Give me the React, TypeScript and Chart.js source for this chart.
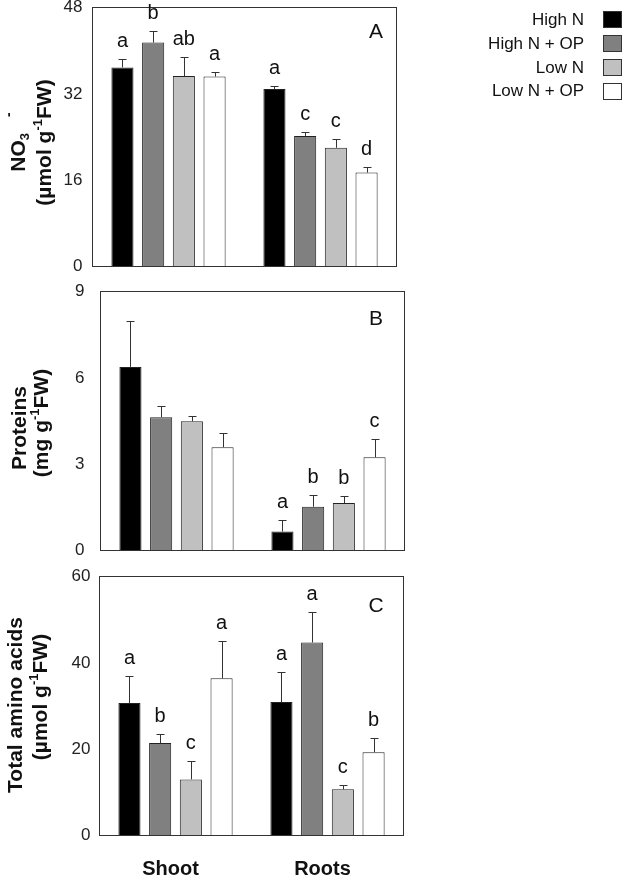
import React, { useEffect, useRef } from "react";
import { Chart, registerables } from "chart.js";
Chart.register(...registerables);

// ---------- data ----------
const categories = ["Shoot", "Roots"];
const seriesNames = ["High N", "High N + OP", "Low N", "Low N + OP"];
const seriesColors = ["#000000", "#808080", "#c0c0c0", "#ffffff"];

// Panel A: NO3- (µmol g-1 FW)
const nitrateHighN = [36.9, 32.9];
const nitrateHighNOP = [41.5, 24.2];
const nitrateLowN = [35.3, 22.0];
const nitrateLowNOP = [35.2, 17.4];
const nitrateErrHighN = [1.5, 0.6];
const nitrateErrHighNOP = [2.1, 0.8];
const nitrateErrLowN = [3.6, 1.7];
const nitrateErrLowNOP = [0.8, 1.0];
const nitrateLetHighN = ["a", "a"];
const nitrateLetHighNOP = ["b", "c"];
const nitrateLetLowN = ["ab", "c"];
const nitrateLetLowNOP = ["a", "d"];
const nitrateTicks = [0, 16, 32, 48];

// Panel B: Proteins (mg g-1 FW)
const proteinHighN = [6.38, 0.66];
const proteinHighNOP = [4.63, 1.52];
const proteinLowN = [4.49, 1.65];
const proteinLowNOP = [3.59, 3.24];
const proteinErrHighN = [1.6, 0.41];
const proteinErrHighNOP = [0.39, 0.4];
const proteinErrLowN = [0.2, 0.26];
const proteinErrLowNOP = [0.5, 0.65];
const proteinLetHighN = ["", "a"];
const proteinLetHighNOP = ["", "b"];
const proteinLetLowN = ["", "b"];
const proteinLetLowNOP = ["", "c"];
const proteinTicks = [0, 3, 6, 9];

// Panel C: Total amino acids (µmol g-1 FW)
const aminoHighN = [30.7, 30.9];
const aminoHighNOP = [21.4, 44.7];
const aminoLowN = [13.0, 10.7];
const aminoLowNOP = [36.4, 19.3];
const aminoErrHighN = [6.2, 7.0];
const aminoErrHighNOP = [2.1, 7.1];
const aminoErrLowN = [4.2, 1.1];
const aminoErrLowNOP = [8.6, 3.4];
const aminoLetHighN = ["a", "a"];
const aminoLetHighNOP = ["b", "a"];
const aminoLetLowN = ["c", "c"];
const aminoLetLowNOP = ["a", "b"];
const aminoTicks = [0, 20, 40, 60];

// ---------- styling / layout ----------
const FONT = '"Liberation Sans", Arial, Helvetica, sans-serif';
const W = 624;

type Seg = { text: string; size: number; dy?: number; gap?: number };

const umolLine: Seg[] = [
  { text: "(µmol g", size: 21 },
  { text: "-1", size: 13, dy: -9 },
  { text: "FW)", size: 21 },
];

const panels = [
  {
    key: "A",
    top: 0,
    height: 278,
    area: { left: 92.5, top: 7.5, right: 396.5, bottom: 266.5 },
    ticks: nitrateTicks,
    tickPad: 10,
    values: [nitrateHighN, nitrateHighNOP, nitrateLowN, nitrateLowNOP],
    errors: [nitrateErrHighN, nitrateErrHighNOP, nitrateErrLowN, nitrateErrLowNOP],
    letters: [nitrateLetHighN, nitrateLetHighNOP, nitrateLetLowN, nitrateLetLowNOP],
    title: [
      [
        { text: "NO", size: 21 },
        { text: "3", size: 13, dy: 4 },
        { text: "-", size: 14, dy: -12, gap: 16 },
      ] as Seg[],
      umolLine,
    ],
    titleBase: [25, 50.5],
    titleCenter: [142, 142.5],
    letterBase: 38,
    showCategories: false,
    showLegend: true,
  },
  {
    key: "B",
    top: 278,
    height: 285,
    area: { left: 100.5, top: 13.5, right: 404.5, bottom: 272.5 },
    ticks: proteinTicks,
    tickPad: 16,
    values: [proteinHighN, proteinHighNOP, proteinLowN, proteinLowNOP],
    errors: [proteinErrHighN, proteinErrHighNOP, proteinErrLowN, proteinErrLowNOP],
    letters: [proteinLetHighN, proteinLetHighNOP, proteinLetLowN, proteinLetLowNOP],
    title: [
      [{ text: "Proteins", size: 21 }] as Seg[],
      [
        { text: "(mg g", size: 21 },
        { text: "-1", size: 13, dy: -9 },
        { text: "FW)", size: 21 },
      ] as Seg[],
    ],
    titleBase: [26, 48],
    titleCenter: [428, 423],
    letterBase: 325,
    showCategories: false,
    showLegend: false,
  },
  {
    key: "C",
    top: 563,
    height: 313,
    area: { left: 99.5, top: 13.5, right: 403.5, bottom: 272.5 },
    ticks: aminoTicks,
    tickPad: 9,
    values: [aminoHighN, aminoHighNOP, aminoLowN, aminoLowNOP],
    errors: [aminoErrHighN, aminoErrHighNOP, aminoErrLowN, aminoErrLowNOP],
    letters: [aminoLetHighN, aminoLetHighNOP, aminoLetLowN, aminoLetLowNOP],
    title: [[{ text: "Total amino acids", size: 21 }] as Seg[], umolLine],
    titleBase: [22, 47],
    titleCenter: [705, 697],
    letterBase: 612,
    showCategories: true,
    showLegend: false,
  },
];

type Panel = (typeof panels)[number];

function drawRotated(ctx: CanvasRenderingContext2D, segs: Seg[], baseX: number, centerY: number) {
  ctx.save();
  ctx.translate(baseX, centerY);
  ctx.rotate(-Math.PI / 2);
  ctx.fillStyle = "#111";
  ctx.textBaseline = "alphabetic";
  ctx.textAlign = "left";
  let total = 0;
  for (const s of segs) {
    ctx.font = `bold ${s.size}px ${FONT}`;
    total += (s.gap || 0) + ctx.measureText(s.text).width;
  }
  let x = -total / 2;
  for (const s of segs) {
    ctx.font = `bold ${s.size}px ${FONT}`;
    x += s.gap || 0;
    ctx.fillText(s.text, x, s.dy || 0);
    x += ctx.measureText(s.text).width;
  }
  ctx.restore();
}

function makeDecor(p: Panel) {
  return {
    id: "decor" + p.key,
    afterDatasetsDraw(chart: any) {
      const { ctx, chartArea, scales } = chart;
      const yS = scales.y;
      const xS = scales.x;
      ctx.save();
      // frame
      ctx.strokeStyle = "#333";
      ctx.lineWidth = 1;
      ctx.strokeRect(chartArea.left, chartArea.top, chartArea.right - chartArea.left, chartArea.bottom - chartArea.top);

      // error bars + letters
      chart.data.datasets.forEach((ds: any, di: number) => {
        const meta = chart.getDatasetMeta(di);
        meta.data.forEach((el: any, i: number) => {
          const v = ds.data[i];
          const topPx = yS.getPixelForValue(v + p.errors[di][i]);
          const cx = Math.round(el.x) + 0.5;
          const ty = Math.round(topPx) + 0.5;
          ctx.strokeStyle = "#333";
          ctx.lineWidth = 1;
          ctx.beginPath();
          ctx.moveTo(cx, el.y);
          ctx.lineTo(cx, ty);
          ctx.moveTo(cx - 4, ty);
          ctx.lineTo(cx + 4, ty);
          ctx.stroke();
          const L = p.letters[di][i];
          if (L) {
            ctx.fillStyle = "#111";
            ctx.font = `20px ${FONT}`;
            ctx.textAlign = "center";
            ctx.textBaseline = "alphabetic";
            ctx.fillText(L, el.x, topPx - 12);
          }
        });
      });

      // panel letter
      ctx.fillStyle = "#111";
      ctx.font = `21px ${FONT}`;
      ctx.textAlign = "center";
      ctx.textBaseline = "alphabetic";
      ctx.fillText(p.key, 376, p.letterBase - p.top);

      // y-axis title
      p.title.forEach((segs, li) => {
        drawRotated(ctx, segs, p.titleBase[li], p.titleCenter[li] - p.top);
      });

      // category labels
      if (p.showCategories) {
        ctx.fillStyle = "#111";
        ctx.font = `bold 20px ${FONT}`;
        ctx.textAlign = "center";
        ctx.textBaseline = "alphabetic";
        categories.forEach((c, i) => {
          ctx.fillText(c, xS.getPixelForValue(i) - 5, 875 - p.top);
        });
      }

      // legend
      if (p.showLegend) {
        const rows = [19, 43, 67, 90.5];
        seriesNames.forEach((n, i) => {
          ctx.fillStyle = "#111";
          ctx.font = `17px ${FONT}`;
          ctx.textAlign = "right";
          ctx.textBaseline = "middle";
          ctx.fillText(n, 584, rows[i] + 1);
          ctx.fillStyle = seriesColors[i];
          const bx = 603.5, by = Math.round(rows[i] - 8) + 0.5;
          ctx.fillRect(bx, by, 18, 16);
          ctx.strokeStyle = "#333";
          ctx.strokeRect(bx, by, 18, 16);
        });
      }
      ctx.restore();
    },
  };
}

function PanelChart({ p }: { p: Panel }) {
  const ref = useRef<HTMLCanvasElement | null>(null);
  useEffect(() => {
    if (!ref.current) return;
    const a = p.area;
    const chart = new Chart(ref.current, {
      type: "bar",
      data: {
        labels: categories,
        datasets: seriesNames.map((n, i) => ({
          label: n,
          data: p.values[i],
          backgroundColor: seriesColors[i],
          borderColor: "#222",
          borderWidth: 1,
          categoryPercentage: 0.808,
          barPercentage: 0.72,
        })),
      },
      options: {
        animation: false,
        responsive: false,
        devicePixelRatio: 1,
        layout: {
          padding: { left: 0, top: a.top, right: W - a.right, bottom: p.height - a.bottom },
        },
        plugins: { legend: { display: false }, tooltip: { enabled: false }, title: { display: false } },
        scales: {
          x: { display: false, offset: true },
          y: {
            min: p.ticks[0],
            max: p.ticks[p.ticks.length - 1],
            afterBuildTicks: (scale: any) => {
              scale.ticks = p.ticks.map((v) => ({ value: v }));
            },
            afterFit: (scale: any) => {
              scale.width = a.left;
              scale.paddingTop = 0;
              scale.paddingBottom = 0;
            },
            grid: { display: false, drawTicks: false },
            border: { display: false },
            ticks: {
              padding: p.tickPad,
              color: "#222",
              font: { family: FONT, size: 17 },
            },
          },
        },
      },
      plugins: [makeDecor(p)],
    } as any);
    return () => chart.destroy();
  }, [p]);
  return (
    <canvas
      ref={ref}
      width={W}
      height={p.height}
      style={{ position: "absolute", left: 0, top: p.top, width: W, height: p.height }}
    />
  );
}

export default function App() {
  return (
    <div style={{ position: "absolute", left: 0, top: 0, width: W, height: 876, background: "#fff" }}>
      {panels.map((p) => (
        <PanelChart key={p.key} p={p} />
      ))}
    </div>
  );
}
